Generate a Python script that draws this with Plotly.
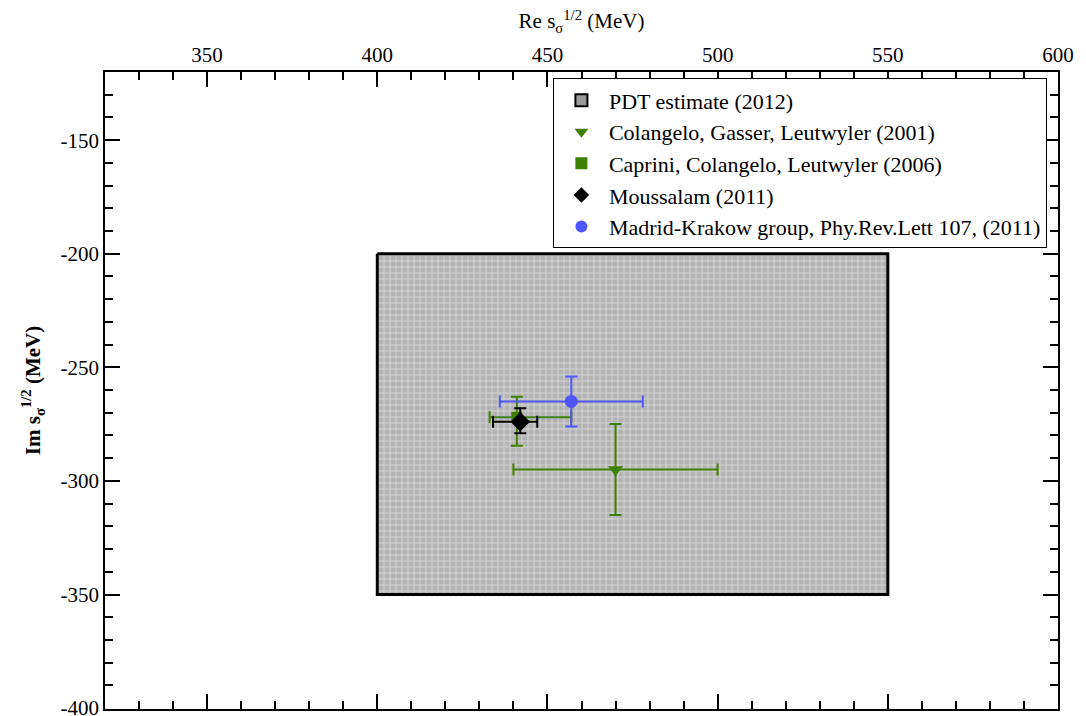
import plotly.graph_objects as go

# PDT estimate box (Re range, Im range)
pdt_re = [400, 550]
pdt_im = [-350, -200]

# Points: Re, Re+err, Re-err, Im, Im+err, Im-err
cgl_re, cgl_re_p, cgl_re_m = [470], [30], [30]
cgl_im, cgl_im_p, cgl_im_m = [-295], [20], [20]

ccl_re, ccl_re_p, ccl_re_m = [441], [16], [8]
ccl_im, ccl_im_p, ccl_im_m = [-272], [9], [12.5]

mou_re, mou_re_p, mou_re_m = [442], [5], [8]
mou_im, mou_im_p, mou_im_m = [-274], [6], [5]

mk_re, mk_re_p, mk_re_m = [457], [21], [21]
mk_im, mk_im_p, mk_im_m = [-265], [11], [11]

x_ticks = [350, 400, 450, 500, 550, 600]
y_ticks = [-150, -200, -250, -300, -350, -400]
y_ticklabels = ["-150", "-200", "-250", "-300", "-350", "-400"]

GREEN = "#3f8000"
BLUE = "#4f55ff"
FONT = "Liberation Serif, Times New Roman, serif"

fig = go.Figure()

# box
fig.add_trace(go.Scatter(
    x=[pdt_re[0], pdt_re[1], pdt_re[1], pdt_re[0], pdt_re[0]],
    y=[pdt_im[1], pdt_im[1], pdt_im[0], pdt_im[0], pdt_im[1]],
    mode="lines", fill="toself",
    fillcolor="#c0c0c0",
    fillpattern=dict(shape="+", fgcolor="#ffffff", bgcolor="#b4b4b4", size=6, solidity=0.25),
    line=dict(color="black", width=3),
    showlegend=False, hoverinfo="skip"))

fig.add_trace(go.Scatter(
    x=[None], y=[None], mode="markers", name="PDT estimate (2012)",
    marker=dict(symbol="square", size=13, color="#9a9a9a", line=dict(color="black", width=3))))

def pt(name, x, xp, xm, y, yp, ym, color, symbol, size):
    fig.add_trace(go.Scatter(
        x=x, y=y, mode="markers", name=name,
        marker=dict(symbol=symbol, size=size, color=color),
        error_x=dict(type="data", symmetric=False, array=xp, arrayminus=xm,
                     color=color, thickness=2, width=6),
        error_y=dict(type="data", symmetric=False, array=yp, arrayminus=ym,
                     color=color, thickness=2, width=6)))

pt("Colangelo, Gasser, Leutwyler (2001)", cgl_re, cgl_re_p, cgl_re_m, cgl_im, cgl_im_p, cgl_im_m,
   GREEN, "triangle-down", 13)
pt("Caprini, Colangelo, Leutwyler (2006)", ccl_re, ccl_re_p, ccl_re_m, ccl_im, ccl_im_p, ccl_im_m,
   GREEN, "square", 11)
pt("Moussalam (2011)", mou_re, mou_re_p, mou_re_m, mou_im, mou_im_p, mou_im_m,
   "black", "diamond", 15)
pt("Madrid-Krakow group, Phy.Rev.Lett 107, (2011)", mk_re, mk_re_p, mk_re_m, mk_im, mk_im_p, mk_im_m,
   BLUE, "circle", 13)

axis_common = dict(
    showgrid=False, zeroline=False, showline=True, linecolor="black", linewidth=1.5,
    mirror="ticks", ticks="inside", ticklen=15, tickwidth=1.5, tickcolor="black",
    tickfont=dict(family=FONT, size=21, color="black"),
    ticklabeloverflow="allow", automargin=False,
    minor=dict(ticks="inside", ticklen=8, tickwidth=1.5, tickcolor="black", dtick=10),
)

fig.update_layout(
    width=1086, height=716,
    margin=dict(l=105, r=28, t=72, b=7, autoexpand=False),
    plot_bgcolor="white", paper_bgcolor="white",
    font=dict(family=FONT, size=21, color="black"),
    xaxis=dict(range=[320, 600], side="top", tickvals=x_ticks,
               title=dict(text="Re s<sub>σ</sub><sup>1/2</sup> (MeV)", font=dict(family=FONT, size=21), standoff=8),
               **axis_common),
    yaxis=dict(range=[-400.4, -120], tickvals=y_ticks, ticktext=y_ticklabels,
               title=dict(text="<b>Im s<sub>σ</sub><sup>1/2</sup> (MeV)</b>", font=dict(family=FONT, size=21), standoff=14),
               **axis_common),
    legend=dict(x=0.47, y=0.99, xanchor="left", yanchor="top",
                bgcolor="white", bordercolor="black", borderwidth=1,
                font=dict(family=FONT, size=22), tracegroupgap=0, itemsizing="constant",
                itemwidth=45),
    showlegend=True,
)

fig.write_html("out.html")
